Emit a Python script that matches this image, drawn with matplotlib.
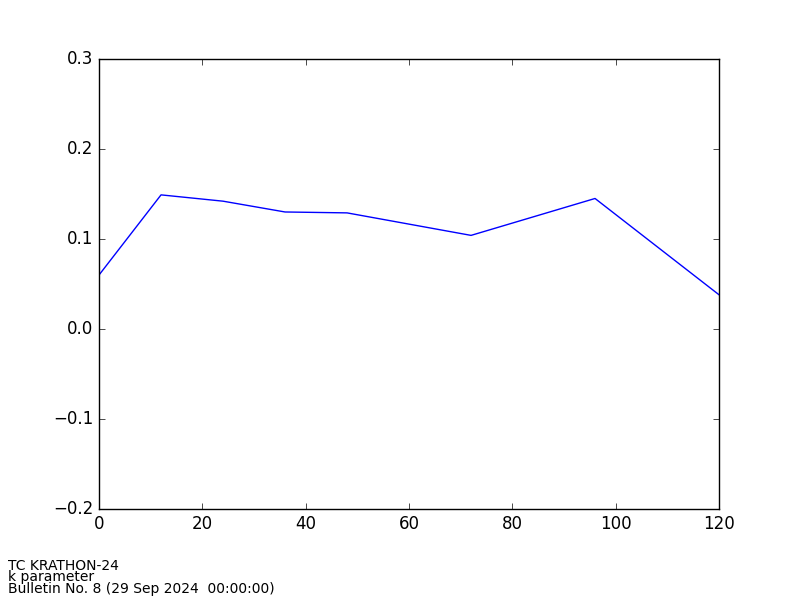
import matplotlib
matplotlib.use('Agg')
import matplotlib.pyplot as plt

# lead time (h) and k parameter
hours = [0, 12, 24, 36, 48, 72, 96, 120]
k_vals = [0.060, 0.149, 0.142, 0.130, 0.129, 0.104, 0.145, 0.038]

info_lines = ['TC KRATHON-24', 'k parameter', 'Bulletin No. 8 (29 Sep 2024  00:00:00)']

plt.style.use('classic')
plt.rcParams['figure.facecolor'] = 'white'
plt.rcParams['savefig.facecolor'] = 'white'

fig = plt.figure(figsize=(8, 6), dpi=100)
ax = fig.add_axes([0.1238, 0.1517, 0.775, 0.75])
ax.plot(hours, k_vals, color='b', linewidth=1.0)
ax.set_xlim(0, 120)
ax.set_ylim(-0.2, 0.3)
ax.set_xticks([0, 20, 40, 60, 80, 100, 120])
ax.set_yticks([-0.2, -0.1, 0.0, 0.1, 0.2, 0.3])

# caption bottom-left (lines sit tight, as in the original bulletin plots)
for txt, yb in zip(info_lines, [570, 581.5, 593]):
    fig.text(8 / 800, 1 - yb / 600, txt, fontsize=10, va='baseline', ha='left')

fig.savefig('out.png', dpi=100)
